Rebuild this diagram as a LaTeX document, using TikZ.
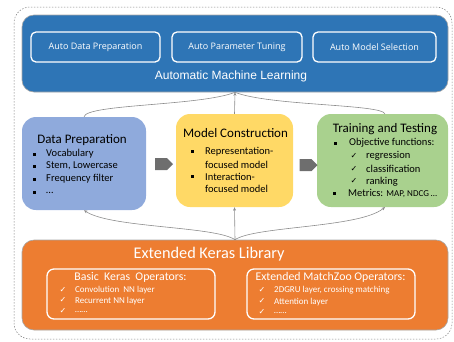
\documentclass[tikz,border=0pt]{standalone}
\usepackage{fontspec}
\setmainfont{Carlito}
\newfontfamily\osfont{Open Sans}
\newfontfamily\lsfont{Liberation Sans}
\newfontfamily\djfont{DejaVu Sans}
\usetikzlibrary{shapes.arrows,arrows.meta}
\definecolor{amlblue}{HTML}{2E75B6}
\definecolor{dpblue}{HTML}{8FAADC}
\definecolor{mcyellow}{HTML}{FFD966}
\definecolor{ttgreen}{HTML}{A9D18E}
\definecolor{eklorange}{HTML}{ED7D31}
\definecolor{bordergray}{HTML}{A6A6A6}
\definecolor{arrowgray}{HTML}{6E6E6E}
\definecolor{linegray}{HTML}{8C8C8C}
\tikzset{
  bigbox/.style={rounded corners=12pt, inner sep=0pt},
  autobox/.style={draw=white, line width=1.3pt, rounded corners=5pt, inner sep=0pt, text=white, font=\osfont\fontsize{9}{10}\selectfont},
  opbox/.style={draw=white, line width=1.3pt, rounded corners=7pt, inner sep=0pt},
  title/.style={inner sep=0pt, font=\fontsize{13}{15}\selectfont},
  itemtxt/.style={inner sep=0pt, anchor=west, font=\fontsize{10.5}{12}\selectfont},
  wtxt/.style={inner sep=0pt, anchor=west, text=white, font=\fontsize{9}{11}\selectfont},
  bul/.style={fill=black, minimum size=3pt, inner sep=0pt},
  chk/.style={inner sep=0pt, font=\djfont\fontsize{8}{9}\selectfont},
  conn/.style={draw=linegray, line width=0.6pt},
  blockarrow/.style={single arrow, fill=arrowgray, minimum height=18pt, minimum width=12pt, single arrow head extend=0pt, single arrow head indent=0pt, inner sep=0pt, shape border rotate=0}
}
\begin{document}
\begin{tikzpicture}[x=1pt,y=-1pt]
\useasboundingbox (0,0) rectangle (454,341);
% outer dashed frame
\draw[gray, line width=0.5pt, dash pattern=on 1.5pt off 1.5pt, rounded corners=16pt] (14,7) rectangle (452,339);

% Automatic Machine Learning
\node[bigbox, fill=amlblue, draw=bordergray, line width=0.6pt, minimum width=426pt, minimum height=77pt] (aml) at (235,53.5) {};
\node[autobox, minimum width=129pt, minimum height=30pt] (adp) at (95.5,47) {Auto Data Preparation};
\node[autobox, minimum width=130pt, minimum height=30pt] (apt) at (237,47) {Auto Parameter Tuning};
\node[autobox, minimum width=123pt, minimum height=30pt] (ams) at (374.5,47) {Auto Model Selection};
\node[inner sep=0pt, text=white, font=\lsfont\fontsize{12}{14}\selectfont] (amllab) at (231,76) {Automatic Machine Learning};

% Data Preparation
\node[bigbox, rounded corners=14pt, fill=dpblue, minimum width=124pt, minimum height=93pt] (dp) at (84,163.5) {};
\node[title] (dpt) at (82,140) {Data Preparation};
\node[bul] (dpb1) at (34,154) {};
\node[itemtxt] (dp1) at (46,154) {Vocabulary};
\node[bul] (dpb2) at (34,166) {};
\node[itemtxt] (dp2) at (46,166) {Stem, Lowercase};
\node[bul] (dpb3) at (34,179.5) {};
\node[itemtxt] (dp3) at (46,179) {Frequency filter};
\node[bul] (dpb4) at (34,192) {};
\node[itemtxt] (dp4) at (46,192.5) {\dots};

% Model Construction
\node[bigbox, rounded corners=14pt, fill=mcyellow, minimum width=117pt, minimum height=93pt] (mc) at (234.5,160.5) {};
\node[title] (mct) at (235.5,133) {Model Construction};
\node[bul] (mcb1) at (192,151) {};
\node[itemtxt] (mc1) at (205,151.5) {Representation-};
\node[itemtxt] (mc2) at (205,164.5) {focused model};
\node[bul] (mcb2) at (192,176) {};
\node[itemtxt] (mc3) at (205,176.5) {Interaction-};
\node[itemtxt] (mc4) at (205,189) {focused model};

% Training and Testing
\node[bigbox, rounded corners=14pt, fill=ttgreen, minimum width=131pt, minimum height=93pt] (tt) at (382.5,160.5) {};
\node[title] (ttt) at (385,129) {Training and Testing};
\node[bul] (ttb1) at (335,143) {};
\node[itemtxt] (tt1) at (349,143) {Objective functions:};
\node[chk] (ttc1) at (354,156) {✓};
\node[itemtxt] (tt2) at (366,156) {regression};
\node[chk] (ttc2) at (354,169) {✓};
\node[itemtxt] (tt3) at (366,169) {classification};
\node[chk] (ttc3) at (354,181) {✓};
\node[itemtxt] (tt4) at (366,181.5) {ranking};
\node[bul] (ttb2) at (334,193) {};
\node[itemtxt] (tt5) at (348,193) {Metrics: {\fontsize{9}{10}\selectfont MAP, NDCG \dots}};

% block arrows
\node[blockarrow] (ar1) at (161,164) {};
\node[blockarrow] (ar2) at (305.5,165) {};

% Extended Keras Library
\node[bigbox, fill=eklorange, draw=bordergray, line width=0.6pt, minimum width=426pt, minimum height=90pt] (ekl) at (235,285) {};
\node[inner sep=0pt, text=white, font=\fontsize{16.3}{18}\selectfont] (eklt) at (209,254) {Extended Keras Library};
\node[opbox, minimum width=168pt, minimum height=50pt] (bko) at (131,294) {};
\node[opbox, minimum width=168pt, minimum height=50pt] (emo) at (331,294) {};
\node[inner sep=0pt, text=white, font=\fontsize{11.8}{13}\selectfont] (bkot) at (130.5,277.5) {Basic\ \ Keras\ \ Operators:};
\node[inner sep=0pt, text=white, font=\fontsize{11.8}{13}\selectfont] (emot) at (330.5,277.5) {Extended MatchZoo Operators:};
\node[chk, text=white] (bc1) at (63,289.5) {✓};
\node[wtxt] (bk1) at (75,290.5) {Convolution\ \ NN layer};
\node[chk, text=white] (bc2) at (63,300) {✓};
\node[wtxt] (bk2) at (75,301) {Recurrent NN layer};
\node[chk, text=white] (bc3) at (63,311) {✓};
\node[wtxt] (bk3) at (75,312) {\dots\dots};
\node[chk, text=white] (ec1) at (262,289.5) {✓};
\node[wtxt] (em1) at (274,290.5) {2DGRU layer, crossing matching};
\node[chk, text=white] (ec2) at (262,301) {✓};
\node[wtxt] (em2) at (274,302) {Attention layer};
\node[chk, text=white] (ec3) at (262,312) {✓};
\node[wtxt] (em3) at (274,313) {\dots\dots};

% connectors top
\coordinate (ttn) at (385,114);
\coordinate (tts) at (385,207);
\draw[conn] (dp.north) .. controls (86,104) and (200,106) .. (aml.south);
\draw[conn] (ttn) .. controls (383,104) and (270,106) .. (aml.south);
\draw[conn, -{Stealth[length=3.5pt,width=3pt]}] (mc.north) -- (aml.south);
% connectors bottom
\draw[conn, -{Stealth[length=3.5pt,width=3pt]}] (ekl.north) .. controls (215,226) and (110,228) .. (dp.south);
\draw[conn, -{Stealth[length=3.5pt,width=3pt]}] (ekl.north) .. controls (255,226) and (360,228) .. (tts);
\draw[conn, -{Stealth[length=3.5pt,width=3pt]}] (ekl.north) -- (mc.south);
\end{tikzpicture}
\end{document}
